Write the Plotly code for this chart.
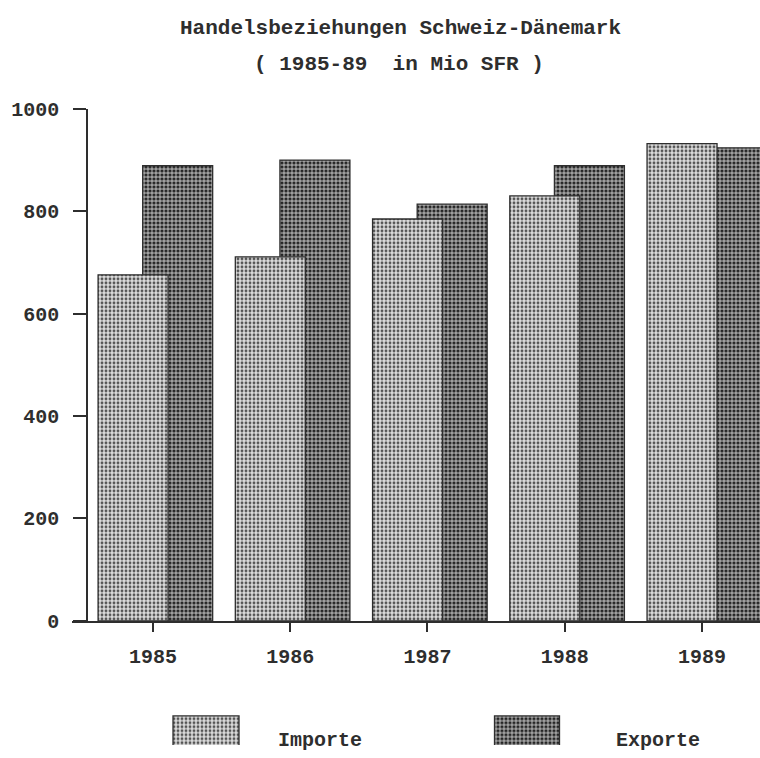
import plotly.graph_objects as go

# Trade between Switzerland and Denmark, 1985-89, in million Swiss francs
YEARS = ["1985", "1986", "1987", "1988", "1989"]
IMPORTE = [676, 711, 785, 830, 932]
EXPORTE = [889, 900, 814, 889, 924]
Y_TICKS = [0, 200, 400, 600, 800, 1000]
SERIES = ["Importe", "Exporte"]

W, H = 760, 758
FONT = "Courier New, Liberation Mono, monospace"
INK = "#2e2e2e"

# dotted halftone fills for the two series
STYLE = {
    "Importe": dict(color="#b4b4b4",
                    pattern=dict(shape=".", size=4, solidity=0.4,
                                 fgcolor="#555555", bgcolor="#dadada",
                                 fillmode="replace")),
    "Exporte": dict(color="#6a6a6a",
                    pattern=dict(shape=".", size=4, solidity=0.5,
                                 fgcolor="#262626", bgcolor="#a4a4a4",
                                 fillmode="replace")),
}
BAR_W = 0.51
OFFSETS = {"Importe": -0.40, "Exporte": -0.075}


def marker(name):
    s = STYLE[name]
    return dict(color=s["color"], pattern=s["pattern"],
                line=dict(color=INK, width=1.3))


def py(px):
    """Paper fraction for a vertical position given in pixels from the top."""
    return 1 - px / H


fig = go.Figure()
# exports drawn first so the import bars overlap them
for name, vals in (("Exporte", EXPORTE), ("Importe", IMPORTE)):
    fig.add_trace(go.Bar(x=YEARS, y=vals, name=name, width=BAR_W,
                         offset=OFFSETS[name], marker=marker(name),
                         showlegend=False, xaxis="x", yaxis="y"))

# legend swatches on their own small axes along the bottom edge
LEG_X = {"Importe": 206, "Exporte": 527}
LEG_W = {"Importe": 66, "Exporte": 65}
LEG_TEXT_X = {"Importe": 276, "Exporte": 614}
LEG_TOP = 30
for name in SERIES:
    fig.add_trace(go.Bar(x=[LEG_X[name]], y=[LEG_TOP + 6], base=[-6],
                         width=[LEG_W[name]], marker=marker(name),
                         showlegend=False, hoverinfo="skip",
                         xaxis="x2", yaxis="y2"))

tick_font = dict(family=FONT, size=20, color=INK, weight="bold")
fig.update_layout(
    width=W, height=H,
    margin=dict(l=0, r=0, t=0, b=0),
    paper_bgcolor="white", plot_bgcolor="rgba(0,0,0,0)",
    barmode="overlay",
    font=dict(family=FONT, size=20, color=INK),
    xaxis=dict(domain=[72 / W, 1], range=[-0.59, 4.423], type="category",
               showline=True, linecolor=INK, linewidth=1.5,
               ticks="outside", ticklen=9, tickcolor=INK, tickwidth=1.5,
               showgrid=False, zeroline=False, ticklabelstandoff=7,
               tickfont=tick_font, anchor="y"),
    yaxis=dict(domain=[py(630), py(102)], range=[0, 1000],
               anchor="free", position=87 / W,
               tickvals=Y_TICKS, showline=True, linecolor=INK, linewidth=1.5,
               ticks="outside", ticklen=13, tickcolor=INK, tickwidth=1.5,
               showgrid=False, zeroline=False, ticklabelstandoff=10,
               tickfont=tick_font),
    xaxis2=dict(domain=[0, 1], range=[0, W], visible=False, anchor="y2"),
    yaxis2=dict(domain=[0, 58 / H], range=[0, 58], visible=False, anchor="x2"),
)

annotations = [
    dict(text="Handelsbeziehungen Schweiz-Dänemark", x=400 / W, y=py(19)),
    dict(text="( 1985-89  in Mio SFR )", x=399 / W, y=py(56)),
]
for a in annotations:
    a.update(xref="paper", yref="paper", showarrow=False,
             xanchor="center", yanchor="middle",
             font=dict(family=FONT, size=21, color=INK, weight="bold"))
for name in SERIES:
    annotations.append(dict(text=name, x=LEG_TEXT_X[name] / W, y=py(753),
                            xref="paper", yref="paper", showarrow=False,
                            xanchor="left", yanchor="middle",
                            font=dict(family=FONT, size=20, color=INK,
                                      weight="bold")))
fig.update_layout(annotations=annotations)

fig.write_html("out.html")
